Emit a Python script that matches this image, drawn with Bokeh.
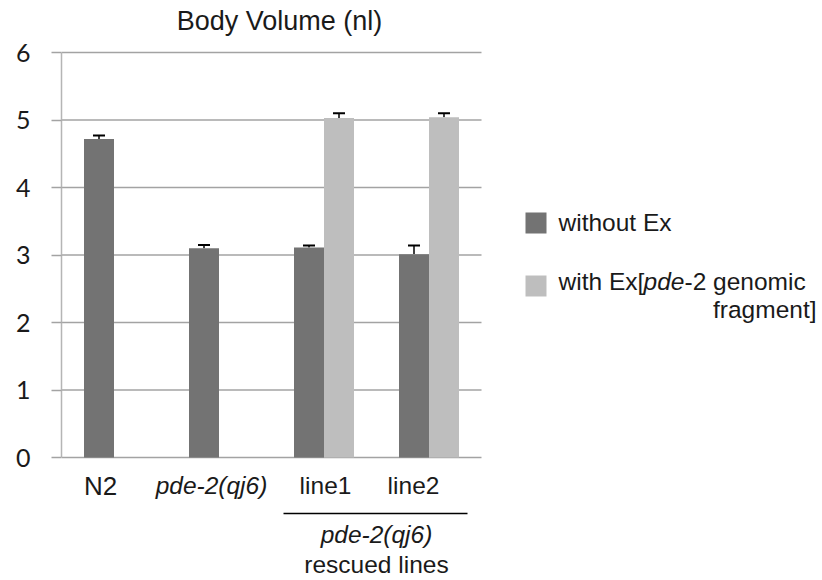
import math

from bokeh.core.properties import value
from bokeh.embed import file_html
from bokeh.models import (BoxAnnotation, ColumnDataSource, FixedTicker,
                          Range1d, TeeHead, Whisker)
from bokeh.plotting import figure
from bokeh.resources import INLINE

# ---- data ---------------------------------------------------------------
groups = ["N2", "pde-2(qj6)", "line1", "line2"]
without_ex = [4.72, 3.10, 3.11, 3.01]
without_err = [0.05, 0.05, 0.03, 0.13]
with_ex = [math.nan, math.nan, 5.03, 5.04]
with_err = [math.nan, math.nan, 0.07, 0.06]
y_ticks = [0, 1, 2, 3, 4, 5, 6]

# ---- styling / layout ---------------------------------------------------
DARK = "#737373"
LIGHT = "#bebebe"
GRID = "#a3a3a3"
INK = "#1a1a1a"
SANS = "Liberation Sans"
TXT = 24.5

W, H = 822, 580
AXIS_X = 61            # pixel column of the value axis
PLOT_R = 481           # right end of the bar area
PLOT_TOP, PLOT_BOT = 52, 457
Y_MAX = 6
BAR_W = 0.2857         # bar width in category units
DODGE = BAR_W / 2

PX_X = (PLOT_R - AXIS_X) / len(groups)       # pixels per category
PX_Y = (PLOT_BOT - PLOT_TOP) / Y_MAX         # pixels per unit of volume

# The drawing area spans the whole canvas right of the axis so that the
# title, category labels and legend can sit in it next to the bars.
x_range = Range1d(0, (W - AXIS_X) / PX_X)
y_range = Range1d((PLOT_BOT - H) / PX_Y, PLOT_BOT / PX_Y)

p = figure(width=W, height=H, output_backend="svg", toolbar_location=None,
           x_range=x_range, y_range=y_range, x_axis_location=None,
           min_border=0, min_border_left=AXIS_X)
p.outline_line_color = None
p.background_fill_color = "white"
p.border_fill_color = "white"
p.xgrid.grid_line_color = None
p.ygrid.grid_line_color = None

# value axis, limited to 0..6
p.yaxis.ticker = FixedTicker(ticks=y_ticks)
p.yaxis.bounds = (0, Y_MAX)
p.yaxis.axis_line_color = "#b5b5b5"
p.yaxis.axis_line_width = 1.5
p.yaxis.major_tick_in = 0
p.yaxis.major_tick_out = 10
p.yaxis.major_tick_line_color = GRID
p.yaxis.major_tick_line_width = 1.5
p.yaxis.minor_tick_line_color = None
p.yaxis.major_label_standoff = 21
p.yaxis.major_label_text_font = "Lato"
p.yaxis.major_label_text_font_size = "25px"
p.yaxis.major_label_text_color = INK

# horizontal grid lines across the bar area only
p.segment(x0=0, x1=len(groups), y0=y_ticks, y1=y_ticks,
          line_color=GRID, line_width=1.5)

# ---- bars ---------------------------------------------------------------
centers = [i + 0.5 for i in range(len(groups))]

dark_src = ColumnDataSource(dict(
    x=[c - DODGE for c in centers],
    top=without_ex,
    upper=[v + e for v, e in zip(without_ex, without_err)],
))
keep = [i for i, v in enumerate(with_ex) if not math.isnan(v)]
light_src = ColumnDataSource(dict(
    x=[centers[i] + DODGE for i in keep],
    top=[with_ex[i] for i in keep],
    upper=[with_ex[i] + with_err[i] for i in keep],
))

p.vbar(x="x", top="top", bottom=0, width=BAR_W, source=dark_src,
       fill_color=DARK, line_color=None)
p.vbar(x="x", top="top", bottom=0, width=BAR_W, source=light_src,
       fill_color=LIGHT, line_color=None)

# one-sided (upper) error bars
for src in (dark_src, light_src):
    p.add_layout(Whisker(base="x", lower="top", upper="upper", source=src,
                         line_color="black", line_width=1.5,
                         lower_head=None,
                         upper_head=TeeHead(size=12, line_color="black",
                                            line_width=2)))


# ---- helpers: canvas pixels -> data coordinates -------------------------
def dx(px):
    return (px - AXIS_X) / PX_X


def dy(py):
    return (PLOT_BOT - py) / PX_Y


def text(x_px, base_px, s, align="left", italic=False, size=TXT):
    # the alphabetic anchor lands a little below the requested baseline,
    # so lift it by a fraction of the font size
    y_px = base_px - 0.37 * size
    p.text(x=[dx(x_px)], y=[dy(y_px)], text=[s], text_align=align,
           text_baseline="alphabetic", text_font=value(SANS),
           text_font_size=f"{size}px", text_color=INK,
           text_font_style="italic" if italic else "normal")


# title
text(279, 30, "Body Volume (nl)", align="center", size=27)

# category labels
text(100, 495, groups[0], align="center", size=26)
text(211, 494, groups[1], align="center", italic=True)
text(325, 494, groups[2], align="center")
text(413, 494, groups[3], align="center")

# bracket over the rescued lines
p.segment(x0=dx(283), x1=dx(467), y0=dy(513), y1=dy(513),
          line_color="black", line_width=1.5)
text(376, 543, "pde-2(qj6)", align="center", italic=True)
text(376, 573, "rescued lines", align="center")

# ---- legend -------------------------------------------------------------
p.add_layout(BoxAnnotation(left=dx(525), right=dx(546), top=dy(212),
                           bottom=dy(233), fill_color=DARK, fill_alpha=1,
                           line_color=None))
p.add_layout(BoxAnnotation(left=dx(525), right=dx(546), top=dy(275),
                           bottom=dy(296), fill_color=LIGHT, fill_alpha=1,
                           line_color=None))
text(558, 231, "without Ex")
text(558, 290, "with Ex[")
text(643, 290, "pde", italic=True)
text(684, 290, "-2 genomic")
text(816, 318, "fragment]", align="right")

open("out.html", "w").write(file_html(p, INLINE))
